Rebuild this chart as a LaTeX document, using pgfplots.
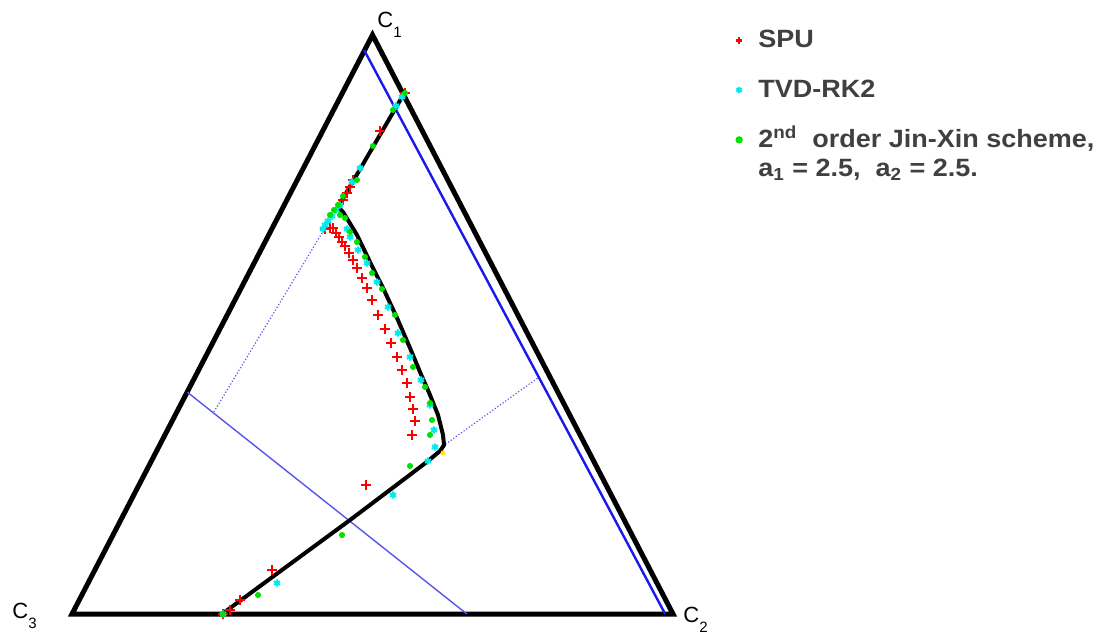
\documentclass[border=0pt]{standalone}
\usepackage{pgfplots}
\pgfplotsset{compat=1.18}
\usepackage{fontspec}
\setmainfont{Liberation Sans}
\newfontfamily\legendfont[FakeStretch=1.08]{Liberation Sans}

\definecolor{legendgray}{RGB}{64,64,64}
\definecolor{spured}{RGB}{255,0,0}
\definecolor{tvdcyan}{RGB}{0,235,235}
\definecolor{jxgreen}{RGB}{0,225,0}
\definecolor{guideblue}{RGB}{25,25,235}
\definecolor{thinblue}{RGB}{85,85,240}
\definecolor{cornyellow}{RGB}{255,230,0}

% legend sample: one small mark, no line
\pgfplotsset{single mark legend/.style={
  legend image code/.code={\draw[##1, mark size=1.6pt] plot coordinates {(0pt,0pt)};}}}

% vertex label: C with a lowered index
\newcommand{\vertexlabel}[1]{C\raisebox{-5pt}{\fontsize{7.5}{8}\selectfont #1}}

% Points are given in the plane of the triangle C3=(0,0), C2=(1,0), C1=(0.5,1)
\pgfplotstableread{
x y
0.2496 0
0.4626 0.1623
0.5574 0.2366
0.5923 0.2642
0.6123 0.2815
0.6190 0.2919
0.6173 0.3092
0.6090 0.3437
0.5957 0.3782
0.5790 0.4180
0.5624 0.4594
0.5408 0.5112
0.5175 0.5630
0.4958 0.6079
0.4742 0.6546
0.4509 0.6943
0.4426 0.7029
0.5541 0.9016
}\exactpath

\pgfplotstableread{
x y
0.5540 0.9000
0.5125 0.8340
0.4676 0.7496
0.4626 0.7375
0.4576 0.7271
0.4509 0.7150
0.4210 0.6649
0.4293 0.6667
0.4343 0.6667
0.4393 0.6580
0.4443 0.6511
0.4493 0.6425
0.4542 0.6356
0.4609 0.6235
0.4676 0.6114
0.4742 0.5976
0.4825 0.5803
0.4908 0.5630
0.4992 0.5423
0.5092 0.5164
0.5208 0.4922
0.5308 0.4680
0.5408 0.4439
0.5491 0.4214
0.5574 0.3990
0.5624 0.3748
0.5674 0.3541
0.5707 0.3333
0.5657 0.3092
0.4892 0.2228
0.3328 0.0760
0.2795 0.0242
0.2629 0.0069
0.2513 0.0
}\spu

\pgfplotstableread{
x y
0.5491 0.8929
0.5391 0.8774
0.4792 0.7703
0.4659 0.7461
0.4459 0.7064
0.4393 0.6978
0.4326 0.6874
0.4260 0.6788
0.4210 0.6718
0.4176 0.6649
0.4576 0.6649
0.4626 0.6511
0.4759 0.6287
0.4908 0.6062
0.5075 0.5734
0.5258 0.5302
0.5424 0.4853
0.5624 0.4439
0.5807 0.4041
0.5957 0.3610
0.6023 0.3178
0.6040 0.2884
0.5923 0.2642
0.5341 0.2055
0.3411 0.0535
0.2513 0.0
}\tvd

\pgfplotstableread{
x y
0.5541 0.8998
0.5341 0.8705
0.5008 0.8083
0.4742 0.7496
0.4509 0.7219
0.4426 0.7064
0.4359 0.6978
0.4293 0.6891
0.4459 0.6891
0.4542 0.6839
0.4626 0.6598
0.4742 0.6425
0.4875 0.6166
0.4992 0.5889
0.5158 0.5613
0.5374 0.5164
0.5507 0.4732
0.5674 0.4266
0.5874 0.3921
0.5957 0.3644
0.5990 0.3351
0.5957 0.3092
0.5624 0.2556
0.4493 0.1364
0.3095 0.0328
0.2513 0.0
}\jinxin

\begin{document}
\begin{tikzpicture}
\begin{axis}[
  width=553.5pt, height=317pt, scale only axis,
  xmin=-0.1198, xmax=1.7221, ymin=-0.0345, ymax=1.0604,
  hide axis, clip=false,
  legend cell align=left,
  legend style={
    at={(axis cs:1.104,1.0155)}, anchor=north west,
    draw=none, fill=none, inner sep=0pt,
    row sep=10.5pt, column sep=6pt,
    font=\legendfont\bfseries\fontsize{12.5}{14.5}\selectfont,
    text=legendgray,
    nodes={inner sep=2pt},
  },
]
% keep the full drawing area in the bounding box
\path (rel axis cs:0,0) rectangle (rel axis cs:1,1);

% triangle frame
\addplot[black, line width=2.5pt, line join=miter, forget plot]
  coordinates {(0,0) (1,0) (0.5,1)} -- cycle;

% guide lines
\addplot[guideblue, line width=1.2pt, forget plot]
  coordinates {(0.486,0.974) (0.987,0)};
\addplot[thinblue, line width=0.7pt, forget plot]
  coordinates {(0.192,0.383) (0.657,0)};
\addplot[thinblue, line width=0.6pt, densely dotted, forget plot]
  coordinates {(0.236,0.349) (0.416,0.658)};
\addplot[thinblue, line width=0.6pt, densely dotted, forget plot]
  coordinates {(0.617,0.290) (0.775,0.4076)};

% exact composition path
\addplot[black, line width=2pt, line join=round, forget plot] table[x=x,y=y] {\exactpath};

% numerical schemes
\addplot[only marks, mark=+, mark size=2.6pt, spured, line width=1.2pt, single mark legend]
  table[x=x,y=y] {\spu};
\addlegendentry{SPU}

\addplot[only marks, mark=asterisk, mark size=1.8pt, tvdcyan, line width=1pt, single mark legend]
  table[x=x,y=y] {\tvd};
\addlegendentry{TVD-RK2}

\addplot[only marks, mark=*, mark size=1.3pt, jxgreen, draw=jxgreen, fill=jxgreen, single mark legend]
  table[x=x,y=y] {\jinxin};
\addlegendentry{\smash{\rlap{\raisebox{-14.5pt}{a\textsubscript{1} = 2.5,\ \ a\textsubscript{2} = 2.5.}}}2\smash{\textsuperscript{nd}}\ \ order Jin-Xin scheme,}

\addplot[only marks, mark=*, mark size=1pt, cornyellow, forget plot]
  coordinates {(0.6173,0.2781)};

% vertex labels
\node[anchor=base west, inner sep=0pt, font=\fontsize{11}{12}\selectfont]
  at (axis cs:0.5075,1.0121) {\vertexlabel{1}};
\node[anchor=base west, inner sep=0pt, font=\fontsize{11}{12}\selectfont]
  at (axis cs:1.0166,-0.0138) {\vertexlabel{2}};
\node[anchor=base west, inner sep=0pt, font=\fontsize{11}{12}\selectfont]
  at (axis cs:-0.0998,-0.0069) {\vertexlabel{3}};
\end{axis}
\end{tikzpicture}
\end{document}
